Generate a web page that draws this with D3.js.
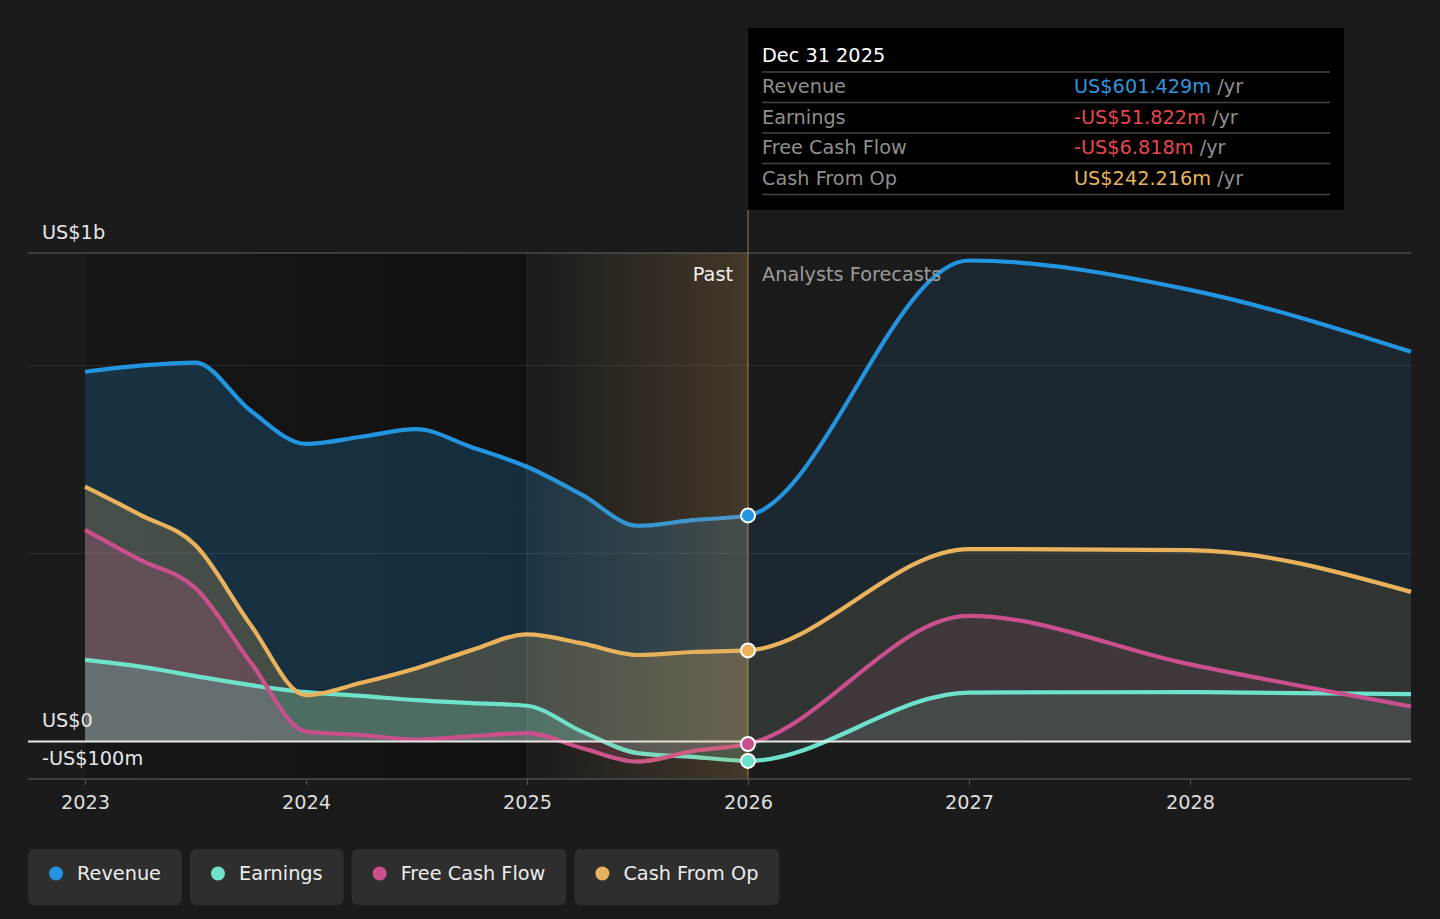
<!DOCTYPE html>
<html>
<head>
<meta charset="utf-8">
<script src="https://cdn.jsdelivr.net/npm/d3@7"></script>
<style>
  html, body { margin: 0; padding: 0; background: #1b1b1b; }
  svg { display: block; font-family: "DejaVu Sans", sans-serif; }
</style>
</head>
<body>
<svg id="chart" width="1440" height="919"></svg>
<script>
// quarterly trailing values up to Dec 2025, then analyst forecasts (US$ m)
var years        = [2023, 2023.25, 2023.5, 2023.75, 2024, 2024.25, 2024.5, 2024.75, 2025, 2025.25, 2025.5, 2025.75, 2026, 2027, 2028, 2029];
var revenue      = [984, 1000, 1008, 880, 792, 811, 831, 783, 731, 656, 574, 589, 601.429, 1280, 1202, 1037];
var earnings     = [217, 199, 174, 150, 131, 121, 110, 102, 95, 26, -31, -41, -51.822, 130, 131, 126];
var freeCashFlow = [563, 483, 408, 210, 26, 17, 5, 14, 22, -18, -54, -26, -6.818, 334, 205, 93];
var cashFromOp   = [678, 603, 522, 310, 123, 156, 195, 243, 285, 261, 230, 238, 242.216, 512, 509, 398];

var seriesNames  = ["Revenue", "Earnings", "Free Cash Flow", "Cash From Op"];
var seriesColors = ["#2394df", "#6ee2cb", "#c9508b", "#e8b35c"];

var xTicks      = [2023, 2024, 2025, 2026, 2027, 2028];
var yGrid       = [500, 1000];
var yLabelVals  = [1300, 0, -100];
var yLabelTexts = ["US$1b", "US$0", "-US$100m"];

var tipDate   = "Dec 31 2025";
var tipValues = ["US$601.429m", "-US$51.822m", "-US$6.818m", "US$242.216m"];
var tipColors = ["#2f95de", "#e5484d", "#e5484d", "#e8b35c"];

var nowYear = 2026, bandYear = 2025;
var fontSize = '19.3px';

var svg = d3.select('#chart'),
    left = 28, right = 1411,
    x = d3.scaleLinear().domain([2023, 2029]).range([85, 1411]),
    y = d3.scaleLinear().domain([-100, 1300]).range([779, 253]);

var data = [revenue, earnings, freeCashFlow, cashFromOp];
var defs = svg.append('defs');

function hGrad(id, x1, x2, stops) {
    var g = defs.append('linearGradient').attr('id', id)
        .attr('gradientUnits', 'userSpaceOnUse')
        .attr('x1', x1).attr('x2', x2).attr('y1', 0).attr('y2', 0);
    stops.forEach(function(s) {
        g.append('stop').attr('offset', s[0]).attr('stop-color', s[1]).attr('stop-opacity', s[2]);
    });
}

hGrad('pastShade', x(2023), x(bandYear), [[0, '#000', 0.18], [1, '#000', 0.38]]);
hGrad('bandShade', x(bandYear), x(nowYear), [[0, '#d9a45a', 0.0], [1, '#d9a45a', 0.21]]);
var split = (x(nowYear) - x(2023)) / (x(2029) - x(2023));
seriesColors.forEach(function(c, i) {
    hGrad('fill' + i, x(2023), x(2029), [[0, c, 0.22], [split, c, 0.22], [split, c, 0.1], [1, c, 0.1]]);
});

// past background
svg.append('rect')
    .attr('x', x(2023)).attr('y', y(1300))
    .attr('width', x(bandYear) - x(2023)).attr('height', y(-100) - y(1300))
    .attr('fill', 'url(#pastShade)');

// areas
var area = d3.area()
    .x(function(d, i) { return x(years[i]); })
    .y0(y(0))
    .y1(function(d) { return y(d); })
    .curve(d3.curveMonotoneX);

var line = d3.line()
    .x(function(d, i) { return x(years[i]); })
    .y(function(d) { return y(d); })
    .curve(d3.curveMonotoneX);

[0, 3, 2, 1].forEach(function(i) {
    svg.append('path').attr('d', area(data[i])).attr('fill', 'url(#fill' + i + ')');
});

// grid
svg.selectAll('line.grid').data(yGrid).enter().append('line')
    .attr('class', 'grid')
    .attr('x1', left).attr('x2', right)
    .attr('y1', y).attr('y2', y)
    .attr('stroke', 'rgba(255,255,255,0.09)');

svg.append('line')
    .attr('x1', left).attr('x2', right)
    .attr('y1', y(1300)).attr('y2', y(1300))
    .attr('stroke', '#4a4a4a').attr('stroke-width', 1.5);

// lines
[0, 1, 2, 3].forEach(function(i) {
    svg.append('path').attr('d', line(data[i]))
        .attr('fill', 'none')
        .attr('stroke', seriesColors[i])
        .attr('stroke-width', 4.2)
        .attr('stroke-linejoin', 'round');
});

// zero line
svg.append('line')
    .attr('x1', left).attr('x2', right)
    .attr('y1', y(0)).attr('y2', y(0))
    .attr('stroke', '#e8e8e8').attr('stroke-width', 2);

// highlighted last year
svg.append('rect')
    .attr('x', x(bandYear)).attr('y', y(1300))
    .attr('width', x(nowYear) - x(bandYear)).attr('height', y(-100) - y(1300))
    .attr('fill', 'url(#bandShade)');

svg.append('line')
    .attr('x1', x(bandYear)).attr('x2', x(bandYear))
    .attr('y1', y(1300)).attr('y2', y(-100))
    .attr('stroke', 'rgba(255,255,255,0.08)');

svg.append('line')
    .attr('x1', x(nowYear)).attr('x2', x(nowYear))
    .attr('y1', 210).attr('y2', y(-100))
    .attr('stroke', 'rgba(232,179,92,0.42)').attr('stroke-width', 1.5);

// x axis
var xAxis = d3.axisBottom(x)
    .tickValues(xTicks)
    .tickFormat(d3.format('d'))
    .tickSize(6)
    .tickPadding(10);

var xGroup = svg.append('g')
    .attr('transform', 'translate(0,' + y(-100) + ')')
    .call(xAxis);

xGroup.select('.domain').remove();
xGroup.selectAll('.tick line').attr('stroke', '#555');
xGroup.selectAll('.tick text')
    .attr('fill', '#dedede')
    .style('font-size', fontSize)
    .style('font-family', '"DejaVu Sans", sans-serif');

svg.append('line')
    .attr('x1', left).attr('x2', right)
    .attr('y1', y(-100)).attr('y2', y(-100))
    .attr('stroke', '#4d4d4d').attr('stroke-width', 1.5);

// y labels
svg.selectAll('text.ylab').data(yLabelVals).enter().append('text')
    .attr('class', 'ylab')
    .attr('x', 42)
    .attr('y', function(d) { return y(d) - 14; })
    .attr('fill', '#e6e6e6')
    .style('font-size', fontSize)
    .text(function(d, i) { return yLabelTexts[i]; });

// past / forecast labels
svg.append('text')
    .attr('x', x(nowYear) - 15).attr('y', 281)
    .attr('text-anchor', 'end')
    .attr('fill', '#f0f0f0')
    .style('font-size', fontSize)
    .text('Past');

svg.append('text')
    .attr('x', x(nowYear) + 14).attr('y', 281)
    .attr('fill', '#9a9a9a')
    .style('font-size', fontSize)
    .text('Analysts Forecasts');

// dots at the hovered date
var ni = years.indexOf(nowYear);
[3, 0, 2, 1].forEach(function(i) {
    svg.append('circle')
        .attr('cx', x(nowYear)).attr('cy', y(data[i][ni]))
        .attr('r', 7)
        .attr('fill', seriesColors[i])
        .attr('stroke', '#fff').attr('stroke-width', 2);
});

// tooltip
var tip = svg.append('g');
tip.append('rect')
    .attr('x', x(nowYear)).attr('y', 28)
    .attr('width', 596).attr('height', 182)
    .attr('fill', '#000');

tip.append('text')
    .attr('x', 762).attr('y', 62)
    .attr('fill', '#fff')
    .style('font-size', fontSize)
    .text(tipDate);

var rowY = [72, 102.5, 133, 163.5, 194.5];
rowY.forEach(function(ry) {
    tip.append('line')
        .attr('x1', 762).attr('x2', 1330)
        .attr('y1', ry).attr('y2', ry)
        .attr('stroke', '#444').attr('stroke-width', 1.5);
});

seriesNames.forEach(function(name, i) {
    var by = rowY[i] + 21;
    tip.append('text')
        .attr('x', 762).attr('y', by)
        .attr('fill', '#8f8f8f')
        .style('font-size', fontSize)
        .text(name);
    var t = tip.append('text')
        .attr('x', 1074).attr('y', by)
        .style('font-size', fontSize);
    t.append('tspan').attr('fill', tipColors[i]).text(tipValues[i]);
    t.append('tspan').attr('fill', '#8f8f8f').text(' /yr');
});

// legend
var lx = 28;
seriesNames.forEach(function(name, i) {
    var g = svg.append('g').attr('transform', 'translate(' + lx + ',849)');
    var r = g.append('rect')
        .attr('height', 56).attr('rx', 6)
        .attr('fill', '#2e2e2e');
    g.append('circle')
        .attr('cx', 28).attr('cy', 24.5).attr('r', 7)
        .attr('fill', seriesColors[i]);
    var t = g.append('text')
        .attr('x', 49).attr('y', 31)
        .attr('fill', '#ececec')
        .style('font-size', fontSize)
        .text(name);
    var w = 49 + t.node().getComputedTextLength() + 21;
    r.attr('width', w);
    lx += w + 8;
});
</script>
</body>
</html>
